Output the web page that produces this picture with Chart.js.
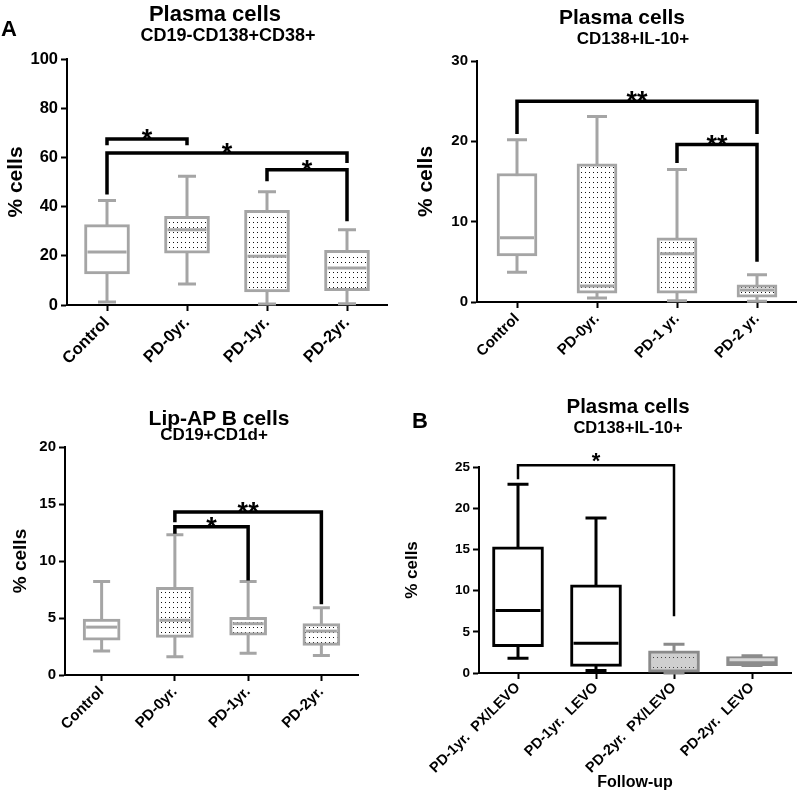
<!DOCTYPE html>
<html>
<head>
<meta charset="utf-8">
<script src="https://cdn.jsdelivr.net/npm/chart.js@4.4.1/dist/chart.umd.min.js"></script>
<style>
  body { margin: 0; background: #fff; }
  #page { position: relative; width: 797px; height: 794px; overflow: hidden; font-family: 'Liberation Sans', Arial, sans-serif; }
  .cv { position: absolute; }
  .t { position: absolute; transform: translate(-50%, -50%); font-weight: bold; line-height: 1; white-space: nowrap; color: #000; }
</style>
</head>
<body>
<div id="page">
  <div class="cv" style="left:0;top:0;width:400px;height:400px"><canvas id="c1"></canvas></div>
  <div class="cv" style="left:400px;top:0;width:397px;height:400px"><canvas id="c2"></canvas></div>
  <div class="cv" style="left:0;top:400px;width:400px;height:394px"><canvas id="c3"></canvas></div>
  <div class="cv" style="left:400px;top:400px;width:397px;height:394px"><canvas id="c4"></canvas></div>

  <div class="t" style="left:9px;top:29px;font-size:22px">A</div>
  <div class="t" style="left:215px;top:14px;font-size:22px">Plasma cells</div>
  <div class="t" style="left:228px;top:35px;font-size:18px">CD19-CD138+CD38+</div>
  <div class="t" style="left:622px;top:16px;font-size:21px">Plasma cells</div>
  <div class="t" style="left:633px;top:38px;font-size:17px">CD138+IL-10+</div>
  <div class="t" style="left:219px;top:417px;font-size:21px">Lip-AP B cells</div>
  <div class="t" style="left:214px;top:434px;font-size:17px">CD19+CD1d+</div>
  <div class="t" style="left:420px;top:421px;font-size:22px">B</div>
  <div class="t" style="left:628px;top:406px;font-size:20.5px">Plasma cells</div>
  <div class="t" style="left:628px;top:427px;font-size:16.5px">CD138+IL-10+</div>
</div>
<script>
/* ---- data: [min, q1, median, q3, max] per group ---- */
const groups1 = ["Control", "PD-0yr.", "PD-1yr.", "PD-2yr."];
const box1 = [
  [1.2, 12.6, 21.5, 32.7, 42.5],
  [8.5, 21.1, 30.6, 36.0, 52.3],
  [0.4, 5.3, 19.8, 38.5, 46.0],
  [0.5, 5.8, 15.0, 22.2, 30.6],
];
const ticks1 = [0, 20, 40, 60, 80, 100];
// [from, to, bar level, left end, right end, label]
const sig1 = [
  [0, 1, 67.5, 64.9, 64.9, "*"],
  [0, 3, 61.8, 44.9, 57.7, "*"],
  [2, 3, 55.0, 50.3, 34.0, "*"],
];

const groups2 = ["Control", "PD-0yr.", "PD-1 yr.", "PD-2 yr."];
const box2 = [
  [3.7, 5.75, 8.0, 16.0, 20.2],
  [0.5, 1.1, 2.0, 17.2, 23.1],
  [0.15, 1.1, 6.0, 8.0, 16.5],
  [0.1, 0.6, 1.5, 2.15, 3.4],
];
const ticks2 = [0, 10, 20, 30];
const sig2 = [
  [0, 3, 25.0, 20.9, 20.9, "**"],
  [2, 3, 19.6, 17.3, 5.0, "**"],
];

const groups3 = ["Control", "PD-0yr.", "PD-1yr.", "PD-2yr."];
const box3 = [
  [2.1, 3.06, 4.2, 4.9, 8.2],
  [1.6, 3.3, 4.8, 7.7, 12.3],
  [1.9, 3.5, 4.5, 5.05, 8.2],
  [1.7, 2.6, 3.85, 4.5, 5.9],
];
const ticks3 = [0, 5, 10, 15, 20];
const sig3 = [
  [1, 3, 14.3, 13.4, 6.2, "**"],
  [1, 2, 13.0, 12.4, 8.3, "*"],
];

const groups4 = ["PD-1yr.  PX/LEVO", "PD-1yr.  LEVO", "PD-2yr.  PX/LEVO", "PD-2yr.  LEVO"];
const box4 = [
  [1.8, 3.2, 7.6, 15.3, 22.9],
  [0.3, 0.8, 3.6, 10.7, 18.8],
  [0.0, 0.1, 1.3, 2.7, 3.5],
  [0.9, 0.9, 1.6, 2.0, 2.1],
];
const ticks4 = [0, 5, 10, 15, 20, 25];
const sig4 = [
  [0, 2, 25.2, 23.5, 6.9, "*"],
];

/* ---- styling ---- */
const FONT = "'Liberation Sans', Arial, sans-serif";
const GRAY = "#a5a5a5";

function dots(bg, fg) {
  const c = document.createElement("canvas");
  c.width = 4; c.height = 5;
  const g = c.getContext("2d");
  g.fillStyle = bg; g.fillRect(0, 0, 4, 5);
  g.fillStyle = fg; g.fillRect(1, 2, 1, 1);
  return g.createPattern(c, "repeat");
}
const dotWhite = dots("#ffffff", "#111111");
const dotGray = dots("#cfcfcf", "#444444");

// whiskers behind boxes, medians + significance bars on top
const boxPlugin = {
  id: "boxplot",
  beforeDatasetsDraw(chart, args, o) {
    const { ctx, scales: { x, y } } = chart;
    ctx.save();
    ctx.lineWidth = o.lw;
    o.stats.forEach((s, i) => {
      const cx = x.getPixelForValue(i);
      const lo = y.getPixelForValue(s[0]), hi = y.getPixelForValue(s[4]);
      ctx.strokeStyle = o.whisker[i];
      ctx.beginPath();
      ctx.moveTo(cx, lo); ctx.lineTo(cx, hi);
      ctx.moveTo(cx - o.cap / 2, lo); ctx.lineTo(cx + o.cap / 2, lo);
      ctx.moveTo(cx - o.cap / 2, hi); ctx.lineTo(cx + o.cap / 2, hi);
      ctx.stroke();
    });
    ctx.restore();
  },
  afterDatasetsDraw(chart, args, o) {
    const { ctx, scales: { x, y } } = chart;
    ctx.save();
    o.stats.forEach((s, i) => {
      const cx = x.getPixelForValue(i);
      const m = y.getPixelForValue(s[2]);
      const hw = o.bw / 2 - o.lw;
      ctx.strokeStyle = o.median[i];
      ctx.lineWidth = o.lw;
      ctx.beginPath(); ctx.moveTo(cx - hw, m); ctx.lineTo(cx + hw, m); ctx.stroke();
    });
    ctx.strokeStyle = "#000";
    ctx.fillStyle = "#000";
    ctx.lineWidth = o.sigLw;
    ctx.lineJoin = "miter";
    ctx.font = "bold " + o.starSize + "px " + FONT;
    ctx.textAlign = "center";
    ctx.textBaseline = "alphabetic";
    o.sig.forEach(([a, b, lvl, l, r, txt]) => {
      const xa = x.getPixelForValue(a), xb = x.getPixelForValue(b), yl = y.getPixelForValue(lvl);
      ctx.beginPath();
      ctx.moveTo(xa, y.getPixelForValue(l));
      ctx.lineTo(xa, yl); ctx.lineTo(xb, yl);
      ctx.lineTo(xb, y.getPixelForValue(r));
      ctx.stroke();
      ctx.fillText(txt, (xa + xb) / 2, yl - o.starLift + 0.58 * o.starSize);
    });
    ctx.restore();
  }
};

function panel(id, p) {
  return new Chart(document.getElementById(id), {
    type: "bar",
    data: {
      labels: p.labels,
      datasets: [{
        data: p.stats.map(s => [s[1], s[3]]),
        backgroundColor: p.fill,
        borderColor: p.border,
        borderWidth: p.lw,
        borderSkipped: false,
        barThickness: p.bw,
      }]
    },
    options: {
      responsive: true,
      maintainAspectRatio: false,
      animation: false,
      layout: { padding: p.pad },
      plugins: {
        legend: { display: false },
        tooltip: { enabled: false },
        boxplot: {
          stats: p.stats, whisker: p.whisker, median: p.median, lw: p.lw, bw: p.bw,
          cap: p.cap, sig: p.sig, sigLw: p.sigLw, starSize: p.starSize, starLift: p.starLift
        }
      },
      scales: {
        x: {
          afterFit: s => { s.height = p.xh; },
          grid: { display: true, offset: false, drawOnChartArea: false, drawTicks: true, tickLength: 6, tickWidth: 2, color: "#000" },
          border: { display: true, color: "#000", width: 2 },
          ticks: { autoSkip: false, minRotation: 45, maxRotation: 45, padding: p.xPad, color: "#000",
                   font: { family: FONT, size: p.xFont, weight: "bold" } },
          title: p.xTitle ? { display: true, text: p.xTitle, color: "#000", padding: { top: 4, bottom: p.xTitlePad },
                   font: { family: FONT, size: 16, weight: "bold" } } : { display: false }
        },
        y: {
          min: p.ticks[0], max: p.ticks[p.ticks.length - 1],
          afterFit: s => { s.width = p.yw; },
          afterBuildTicks: s => { s.ticks = p.ticks.map(v => ({ value: v })); },
          grid: { display: true, drawOnChartArea: false, drawTicks: true, tickLength: 6, tickWidth: 2, color: "#000" },
          border: { display: true, color: "#000", width: 2 },
          ticks: { padding: 3, color: "#000", font: { family: FONT, size: p.yFont, weight: "bold" } },
          title: { display: true, text: "% cells", color: "#000", padding: { top: p.yTitlePad, bottom: 0 },
                   font: { family: FONT, size: p.yTitleSize, weight: "bold" } }
        }
      }
    },
    plugins: [boxPlugin]
  });
}

panel("c1", {
  labels: groups1, stats: box1, ticks: ticks1, sig: sig1,
  fill: ["#fff", dotWhite, dotWhite, dotWhite], border: GRAY, whisker: Array(4).fill(GRAY), median: Array(4).fill(GRAY),
  lw: 3, bw: 45, cap: 18, sigLw: 3.5, starSize: 27, starLift: 6.5,
  pad: { top: 59, right: 13, left: 0, bottom: 0 }, xh: 95, yw: 67,
  xFont: 16.5, xPad: 2, yFont: 16.5, yTitleSize: 21, yTitlePad: 4
});

panel("c2", {
  labels: groups2, stats: box2, ticks: ticks2, sig: sig2,
  fill: ["#fff", dotWhite, dotWhite, dotWhite], border: GRAY, whisker: Array(4).fill(GRAY), median: Array(4).fill(GRAY),
  lw: 3, bw: 40, cap: 20, sigLw: 3.5, starSize: 27, starLift: 6.5,
  pad: { top: 61, right: 0, left: 0, bottom: 0 }, xh: 98, yw: 77,
  xFont: 15, xPad: 2, yFont: 15, yTitleSize: 21, yTitlePad: 14
});

panel("c3", {
  labels: groups3, stats: box3, ticks: ticks3, sig: sig3,
  fill: ["#fff", dotWhite, dotWhite, dotWhite], border: GRAY, whisker: Array(4).fill(GRAY), median: Array(4).fill(GRAY),
  lw: 3, bw: 37, cap: 17, sigLw: 3.5, starSize: 27, starLift: 6.5,
  pad: { top: 47, right: 42, left: 0, bottom: 0 }, xh: 119, yw: 65,
  xFont: 15, xPad: 2, yFont: 15, yTitleSize: 19, yTitlePad: 9
});

panel("c4", {
  labels: groups4, stats: box4, ticks: ticks4, sig: sig4,
  fill: ["#fff", "#fff", dotGray, "#8c8c8c"], border: ["#000", "#000", "#8a8a8a", "#8c8c8c"],
  whisker: ["#000", "#000", "#8a8a8a", "#8c8c8c"], median: ["#000", "#000", "#cfcfcf", "#d8d8d8"],
  lw: 3, bw: 51, cap: 21, sigLw: 2.5, starSize: 22, starLift: 10,
  pad: { top: 67, right: 6, left: 0, bottom: 0 }, xh: 121, yw: 79,
  xFont: 14.5, xPad: 0, yFont: 13.5, yTitleSize: 17, yTitlePad: 2,
  xTitle: "Follow-up", xTitlePad: 2
});
</script>
</body>
</html>
